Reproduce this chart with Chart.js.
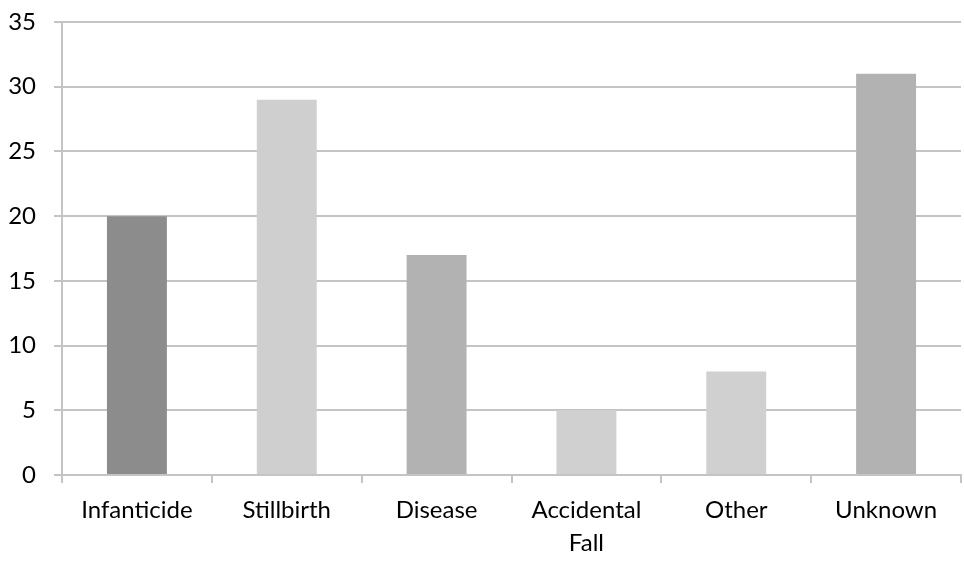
<!DOCTYPE html>
<html>
<head>
<meta charset="utf-8">
<script src="https://cdn.jsdelivr.net/npm/chart.js@4"></script>
<style>
  html, body { margin: 0; padding: 0; background: #ffffff; }
  #wrap { width: 964px; height: 561px; }
</style>
</head>
<body>
<div id="wrap"><canvas id="chart" width="964" height="561"></canvas></div>
<script>
// Causes of death counts
const categories = ['Infanticide', 'Stillbirth', 'Disease', ['Accidental', 'Fall'], 'Other', 'Unknown'];
const counts = [20, 29, 17, 5, 8, 31];
const barColors = ['#8c8c8c', '#cfcfcf', '#b2b2b2', '#d0d0d0', '#d0d0d0', '#b2b2b2'];
const yMin = 0, yMax = 35, yStep = 5;

const fontFamily = 'Lato, "Open Sans", "DejaVu Sans", sans-serif';
const gridColor = '#c4c4c4';

new Chart(document.getElementById('chart'), {
  type: 'bar',
  data: {
    labels: categories,
    datasets: [{
      data: counts,
      backgroundColor: barColors,
      borderWidth: 0,
      categoryPercentage: 0.4,
      barPercentage: 1.0
    }]
  },
  options: {
    responsive: false,
    animation: false,
    layout: { padding: { left: 0, right: 3, top: 0, bottom: 0 } },
    plugins: { legend: { display: false }, tooltip: { enabled: false } },
    scales: {
      x: {
        offset: true,
        afterFit: (scale) => { scale.height = 86; },
        grid: {
          offset: true,
          drawOnChartArea: false,
          drawTicks: true,
          tickLength: 8,
          color: gridColor,
          lineWidth: 2
        },
        border: { color: gridColor, width: 2 },
        ticks: {
          color: '#000000',
          padding: 11,
          maxRotation: 0,
          autoSkip: false,
          font: { family: fontFamily, size: 24, lineHeight: 1.38 }
        }
      },
      y: {
        min: yMin,
        max: yMax,
        afterFit: (scale) => { scale.width = 62; scale.paddingTop = 22; },
        grid: {
          color: gridColor,
          lineWidth: 2,
          tickLength: 8
        },
        border: { color: gridColor, width: 2 },
        ticks: {
          stepSize: yStep,
          color: '#000000',
          padding: 18,
          font: { family: fontFamily, size: 24 }
        }
      }
    }
  }
});
</script>
</body>
</html>
